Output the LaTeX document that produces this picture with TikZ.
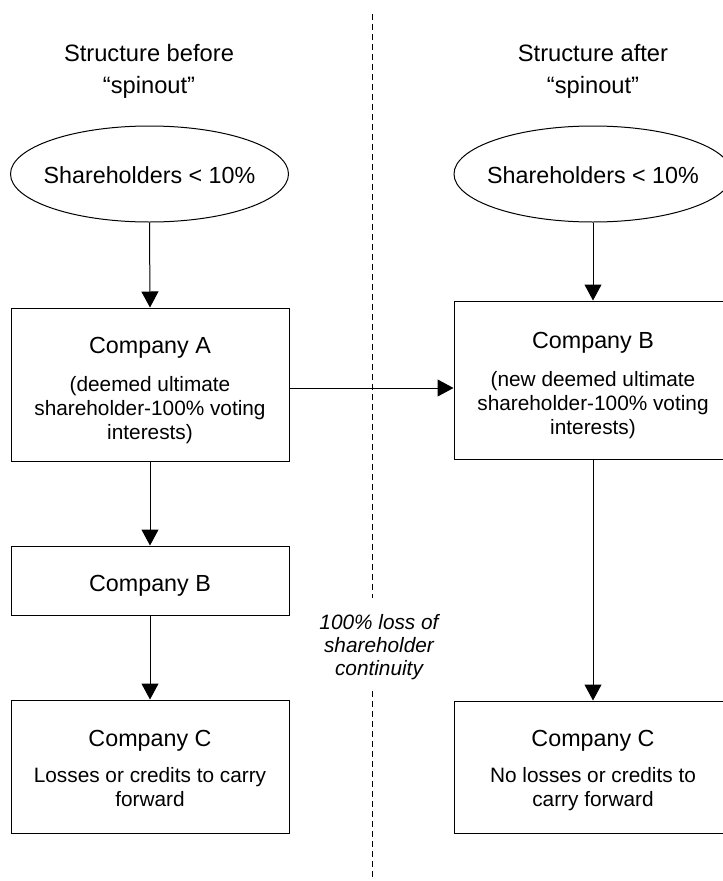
\documentclass[tikz,border=0pt]{standalone}
\usepackage{fontspec}
\setmainfont{Liberation Sans}
\usetikzlibrary{arrows.meta,shapes.geometric}
\begin{document}
\begin{tikzpicture}[x=1pt,y=-1pt,
 box/.style={draw, line width=1pt, rectangle, inner sep=0pt, minimum width=278pt},
 oval/.style={draw, line width=1pt, ellipse, inner sep=0pt, minimum width=278pt, minimum height=96pt},
 big/.style={inner sep=0pt, font=\fontsize{23.3}{28}\selectfont, text height=16.8pt, text depth=0pt},
 ttl/.style={inner sep=0pt, font=\fontsize{23.7}{28}\selectfont, text height=17pt, text depth=0pt},
 sub/.style={inner sep=0pt, font=\fontsize{20.8}{24}\selectfont, text height=15pt, text depth=0pt},
 note/.style={inner sep=0pt, font=\fontsize{20.8}{24}\selectfont\itshape, text height=15pt, text depth=0pt},
 arr/.style={line width=1pt, -{Triangle[length=16pt,width=17pt]}},
 dsh/.style={line width=1pt, dash pattern=on 6pt off 4pt}
]
\useasboundingbox (0,0) rectangle (723,881);
\clip (0,0) rectangle (723,881);
\fill[white] (0,0) rectangle (723,881);

% dashed divider
\coordinate (d1) at (372,14);
\coordinate (d2) at (372,598);
\coordinate (d3) at (372,691);
\coordinate (d4) at (372,881);
\draw[dsh] (d1) -- (d2);
\draw[dsh] (d3) -- (d4);

% left column
\node[ttl] (tL1) at (149,53) {Structure before};
\node[ttl] (tL2) at (149,85) {“spinout”};
\node[oval] (ellL) at (149.5,174) {};
\node[big] (eL) at (149.5,175) {Shareholders < 10\%};
\node[box, minimum height=153pt] (boxA) at (150,384.5) {};
\node[big] (a1) at (150,345) {Company A};
\node[sub] (a2) at (150,384) {(deemed ultimate};
\node[sub] (a3) at (150,408) {shareholder-100\% voting};
\node[sub] (a4) at (150,432) {interests)};
\node[box, minimum height=69pt] (boxBL) at (150,580.5) {};
\node[big] (b1) at (150,583) {Company B};
\node[box, minimum height=133pt] (boxCL) at (150,766.5) {};
\node[big] (c1) at (150,738) {Company C};
\node[sub] (c2) at (150,775) {Losses or credits to carry};
\node[sub] (c3) at (150,799) {forward};

% right column
\node[ttl] (tR1) at (593,53) {Structure after};
\node[ttl] (tR2) at (593,85) {“spinout”};
\node[oval] (ellR) at (593,174) {};
\node[big] (eR) at (593,175) {Shareholders < 10\%};
\node[box, minimum height=158pt] (boxBR) at (593,380) {};
\node[big] (r1) at (593,340) {Company B};
\node[sub] (r2) at (593,379) {(new deemed ultimate};
\node[sub] (r3) at (593,403) {shareholder-100\% voting};
\node[sub] (r4) at (593,427) {interests)};
\node[box, minimum height=132pt] (boxCR) at (593,767) {};
\node[big] (s1) at (593,738) {Company C};
\node[sub] (s2) at (593,775) {No losses or credits to};
\node[sub] (s3) at (593,799) {carry forward};

% note
\node[note] (n1) at (379,622) {100\% loss of};
\node[note] (n2) at (379,645) {shareholder};
\node[note] (n3) at (379,668) {continuity};

% connectors
\draw[arr] (ellL.south) -- (boxA.north);
\draw[arr] (boxA.south) -- (boxBL.north);
\draw[arr] (boxBL.south) -- (boxCL.north);
\draw[arr] (ellR.south) -- (boxBR.north);
\draw[arr] (boxBR.south) -- (boxCR.north);
\path ([yshift=-3.5pt]boxA.east) coordinate (hA);
\draw[arr] (hA) -- (hA -| boxBR.west);
\end{tikzpicture}
\end{document}
